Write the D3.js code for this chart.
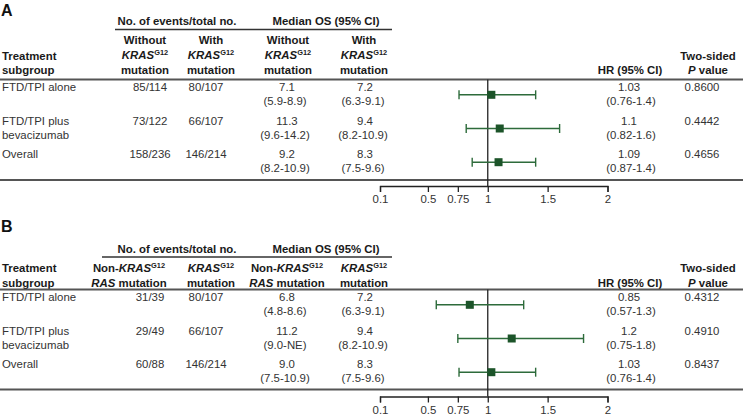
<!DOCTYPE html>
<html><head><meta charset="utf-8">
<script src="https://cdn.jsdelivr.net/npm/d3@7"></script>
<style>
html,body{margin:0;padding:0;background:#fff;}
svg{display:block;font-family:"Liberation Sans",Arial,Helvetica,sans-serif;}
</style></head>
<body>
<svg id="chart" width="743" height="419"></svg>
<script>
// ---------- DATA ----------
const subgroupLabels = [["FTD/TPI alone"], ["FTD/TPI plus", "bevacizumab"], ["Overall"]];
const tickValues = [0.1, 0.5, 0.75, 1, 1.5, 2];
const spannerLabels = ["No. of events/total no.", "Median OS (95% CI)"];

// Panel A
const eventsWithoutA = ["85/114", "73/122", "158/236"];
const eventsWithA = ["80/107", "66/107", "146/214"];
const osMedianWithoutA = ["7.1", "11.3", "9.2"];
const osCIWithoutA = ["5.9-8.9", "9.6-14.2", "8.2-10.9"];
const osMedianWithA = ["7.2", "9.4", "8.3"];
const osCIWithA = ["6.3-9.1", "8.2-10.9", "7.5-9.6"];
const hrA = [1.03, 1.1, 1.09];
const hrLowA = [0.76, 0.82, 0.87];
const hrHighA = [1.4, 1.6, 1.4];
const pValueA = ["0.8600", "0.4442", "0.4656"];

// Panel B
const eventsNonB = ["31/39", "29/49", "60/88"];
const eventsKrasB = ["80/107", "66/107", "146/214"];
const osMedianNonB = ["6.8", "11.2", "9.0"];
const osCINonB = ["4.8-8.6", "9.0-NE", "7.5-10.9"];
const osMedianKrasB = ["7.2", "9.4", "8.3"];
const osCIKrasB = ["6.3-9.1", "8.2-10.9", "7.5-9.6"];
const hrB = [0.85, 1.2, 1.03];
const hrLowB = [0.57, 0.75, 0.76];
const hrHighB = [1.3, 1.8, 1.4];
const pValueB = ["0.4312", "0.4910", "0.8437"];

// Column header segments (i = italic, s = superscript)
const headWithout = [[{t:"Without"}], [{t:"KRAS", i:1}, {t:"G12", s:1}], [{t:"mutation"}]];
const headWith = [[{t:"With"}], [{t:"KRAS", i:1}, {t:"G12", s:1}], [{t:"mutation"}]];
const headNon = [[{t:"Non-"}, {t:"KRAS", i:1}, {t:"G12", s:1}], [{t:"RAS", i:1}, {t:" mutation"}]];
const headKras = [[{t:"KRAS", i:1}, {t:"G12", s:1}], [{t:"mutation"}]];

// ---------- DRAWING ----------
const svg = d3.select("#chart");
const FS = 11.4;
const TXT = "#333";
const HEAD = "#1a1a1a";
const LINE = "#555";
const GREEN_LINE = "#2d6b3b";
const GREEN_FILL = "#1c5429";

const x = d3.scaleLinear().domain([0.1, 2]).range([380, 607.5]);

const colData = [150, 206, 287, 365];
const xHR = 631, xP = 702, xHeadP = 708;

function segText(g, segs, cx, y, anchor) {
  const t = g.append("text").attr("x", cx).attr("y", y)
    .attr("text-anchor", anchor || "middle")
    .attr("font-size", FS).attr("font-weight", "bold").attr("fill", HEAD);
  segs.forEach(s => {
    const ts = t.append("tspan").text(s.t);
    if (s.i) ts.attr("font-style", "italic");
    if (s.s) ts.attr("font-size", 7.4).attr("dy", -4);
  });
  return t;
}

function drawPanel(cfg) {
  const g = svg.append("g");
  // panel letter
  g.append("text").attr("x", 1).attr("y", cfg.letterY).text(cfg.letter)
    .attr("font-size", 16).attr("font-weight", "bold").attr("fill", "#111");

  // spanners
  g.append("text").attr("x", 177).attr("y", cfg.spanY).attr("text-anchor", "middle")
    .attr("font-size", FS).attr("font-weight", "bold").attr("fill", HEAD).text(spannerLabels[0]);
  g.append("text").attr("x", 326).attr("y", cfg.spanY).attr("text-anchor", "middle")
    .attr("font-size", FS).attr("font-weight", "bold").attr("fill", HEAD).text(spannerLabels[1]);
  g.append("line").attr("x1", cfg.spanX0).attr("x2", 392).attr("y1", cfg.spanLineY).attr("y2", cfg.spanLineY)
    .attr("stroke", "#333").attr("stroke-width", 1.4);

  // column headers
  const nL = cfg.heads[0].length;
  cfg.heads.forEach((h, ci) => {
    h.forEach((line, li) => {
      const y = cfg.headLastY - (h.length - 1 - li) * 15;
      segText(g, line, cfg.headX[ci], y);
    });
  });
  // Treatment subgroup
  segText(g, [{t:"Treatment"}], 2, cfg.headLastY - 14.5, "start");
  segText(g, [{t:"subgroup"}], 2, cfg.headLastY, "start");
  segText(g, [{t:"HR (95% CI)"}], 630, cfg.headLastY);
  segText(g, [{t:"Two-sided"}], xHeadP, cfg.headLastY - 14.5);
  segText(g, [{t:"P", i:1}, {t:" value"}], xHeadP, cfg.headLastY);

  // thick rules
  g.append("line").attr("x1", 0).attr("x2", 743).attr("y1", cfg.topRule).attr("y2", cfg.topRule)
    .attr("stroke", LINE).attr("stroke-width", 2);
  g.append("line").attr("x1", 0).attr("x2", 743).attr("y1", cfg.bottomRule).attr("y2", cfg.bottomRule)
    .attr("stroke", LINE).attr("stroke-width", 2);

  const row = d3.scalePoint().domain([0, 1, 2]).range([cfg.rowY0, cfg.rowY0 + 67.4]);

  // subgroup labels
  subgroupLabels.forEach((lab, i) => {
    lab.forEach((l, k) => {
      g.append("text").attr("x", 2).attr("y", row(i) + k * 14).attr("font-size", FS)
        .attr("fill", TXT).text(l);
    });
  });

  const cols = [
    {one: cfg.ev1}, {one: cfg.ev2},
    {one: cfg.med1, two: cfg.ci1}, {one: cfg.med2, two: cfg.ci2}
  ];
  cols.forEach((c, ci) => {
    c.one.forEach((v, i) => {
      g.append("text").attr("x", colData[ci]).attr("y", row(i)).attr("text-anchor", "middle")
        .attr("font-size", FS).attr("fill", TXT).text(v);
      if (c.two) {
        g.append("text").attr("x", colData[ci] - 2).attr("y", row(i) + 14).attr("text-anchor", "middle")
          .attr("font-size", FS).attr("fill", TXT).text("(" + c.two[i] + ")");
      }
    });
  });

  // HR text & p-values
  cfg.hr.forEach((v, i) => {
    g.append("text").attr("x", xHR - 2).attr("y", row(i)).attr("text-anchor", "middle")
      .attr("font-size", FS).attr("fill", TXT).text(String(v));
    g.append("text").attr("x", xHR).attr("y", row(i) + 14).attr("text-anchor", "middle")
      .attr("font-size", FS).attr("fill", TXT).text("(" + cfg.lo[i] + "-" + cfg.hi[i] + ")");
    g.append("text").attr("x", xP).attr("y", row(i)).attr("text-anchor", "middle")
      .attr("font-size", FS).attr("fill", TXT).text(cfg.p[i]);
  });

  // reference line at HR = 1
  g.append("line").attr("x1", x(1)).attr("x2", x(1)).attr("y1", cfg.topRule).attr("y2", cfg.axisY)
    .attr("stroke", "#222").attr("stroke-width", 1.3);

  // forest marks
  const by = i => row(i) + 3.8;
  const marks = g.append("g");
  cfg.hr.forEach((v, i) => {
    marks.append("line").attr("x1", x(cfg.lo[i])).attr("x2", x(cfg.hi[i]))
      .attr("y1", by(i)).attr("y2", by(i)).attr("stroke", GREEN_LINE).attr("stroke-width", 1.4);
    [cfg.lo[i], cfg.hi[i]].forEach(e => {
      marks.append("line").attr("x1", x(e)).attr("x2", x(e)).attr("y1", by(i) - 4.5).attr("y2", by(i) + 4.5)
        .attr("stroke", GREEN_LINE).attr("stroke-width", 1.4);
    });
    marks.append("rect").attr("x", x(v) - 4).attr("y", by(i) - 4).attr("width", 8).attr("height", 8)
      .attr("fill", GREEN_FILL);
  });

  // axis
  const ax = g.append("g").attr("transform", `translate(0,${cfg.axisY})`)
    .call(d3.axisBottom(x).tickValues(tickValues).tickSize(6).tickSizeOuter(6).tickPadding(3)
      .tickFormat(d => String(d)));
  ax.select(".domain").attr("stroke", "#222").attr("stroke-width", 1.3);
  ax.selectAll(".tick line").attr("stroke", "#222").attr("stroke-width", 1.3);
  ax.selectAll(".tick text").attr("font-size", FS).attr("fill", TXT)
    .attr("font-family", '"Liberation Sans",Arial,sans-serif');
}

drawPanel({
  letter: "A", letterY: 16, spanY: 24.5, spanLineY: 29.5, spanX0: 115,
  heads: [headWithout, headWith, headWithout, headWith], headX: [145, 211, 288, 364],
  headLastY: 74, topRule: 79.5, bottomRule: 180, rowY0: 91, axisY: 186,
  ev1: eventsWithoutA, ev2: eventsWithA, med1: osMedianWithoutA, ci1: osCIWithoutA,
  med2: osMedianWithA, ci2: osCIWithA, hr: hrA, lo: hrLowA, hi: hrHighA, p: pValueA
});

drawPanel({
  letter: "B", letterY: 232, spanY: 252.5, spanLineY: 257, spanX0: 102,
  heads: [headNon, headKras, headNon, headKras], headX: [129, 211, 287, 364],
  headLastY: 286.5, topRule: 289.5, bottomRule: 389.5, rowY0: 301, axisY: 396.5,
  ev1: eventsNonB, ev2: eventsKrasB, med1: osMedianNonB, ci1: osCINonB,
  med2: osMedianKrasB, ci2: osCIKrasB, hr: hrB, lo: hrLowB, hi: hrHighB, p: pValueB
});
</script>
</body></html>
